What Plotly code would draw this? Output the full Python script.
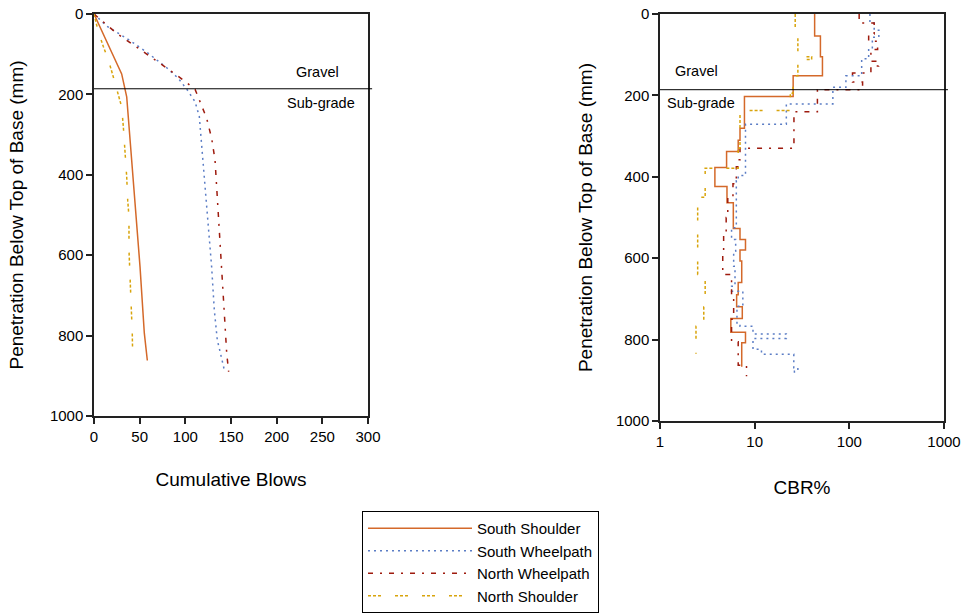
import plotly.graph_objects as go

# ---------------- DCP cumulative blows (left panel) ----------------
ss_depth = [0, 149, 206, 284, 463, 629, 794, 862]
ss_blows = [0, 30.3, 35.8, 38.6, 44.5, 50.4, 55.1, 58.4]

sw_depth = [0, 30, 66, 98, 135, 160, 189, 218, 255, 297, 380, 463, 546, 629, 736, 811, 857, 886]
sw_blows = [0, 13.9, 39.4, 59.5, 80.3, 92.3, 102.2, 110.6, 115.3, 116.8, 119.7, 122.6, 125.2,
            128.8, 131.7, 135.0, 139.8, 142.7]

nw_depth = [0, 48, 114, 152, 187, 214, 259, 309, 363, 430, 504, 554, 653, 745, 844, 890]
nw_blows = [0, 24.8, 66.8, 90.5, 110.6, 115.3, 123.3, 128.8, 132.5, 134.3, 136.1, 137.9,
            139.8, 142.7, 145.3, 147.4]

ns_depth = [0, 44, 81, 114, 156, 189, 231, 280, 338, 405, 463, 504, 587, 645, 703, 794, 844]
ns_blows = [0, 4.7, 10.2, 15.7, 21.1, 24.8, 30.3, 32.1, 33.9, 35.8, 36.9, 38.3, 38.3, 39.4,
            40.5, 41.9, 42.3]

# ---------------- CBR by layer (right panel) ----------------
# each list of tops ends with the bottom of the last layer
ss_top = [0, 54, 105, 152, 203, 281, 310, 338, 377, 424, 464, 527, 554, 580, 607, 660, 690,
          719, 748, 782, 808, 867]
ss_cbr = [43, 49.5, 52, 25.5, 7.8, 7.0, 6.7, 5.05, 3.8, 5.1, 5.95, 7.0, 8.0, 7.0, 7.3, 6.7,
          6.45, 7.4, 5.6, 8.0, 7.3]

sw_top = [0, 22, 40, 57, 85, 110, 152, 180, 221, 271, 397, 410, 525, 554, 583, 620, 669, 681,
          718, 759, 767, 786, 797, 824, 836, 869, 878, 885]
sw_cbr = [165, 183, 205, 175, 160, 135, 92, 67, 21.6, 8.0, 6.7, 6.4, 5.7, 6.3, 6.0, 6.2, 5.7,
          7.5, 6.5, 7.0, 9.6, 21.6, 9.6, 11.8, 25.9, 28.6, 26.3]

nw_top = [0, 22, 49, 67, 87, 116, 128, 145, 167, 186, 240, 330, 358, 375, 417, 450, 500, 545,
          585, 640, 700, 750, 805, 863, 890]
nw_cbr = [127, 183, 160, 199, 169, 204, 169, 108, 138, 46, 26, 7.0, 6.7, 6.4, 5.9, 5.2, 5.0,
          4.7, 4.6, 5.7, 6.0, 5.7, 6.7, 8.2]

ns_top = [0, 39, 105, 112, 152, 195, 237, 330, 379, 450, 640, 720, 767, 835]
ns_cbr = [26.8, 28.6, 40, 28.6, 25.4, 23.8, 7.0, 6.7, 3.0, 2.5, 3.0, 2.9, 2.4]

names = ["South Shoulder", "South Wheelpath", "North Wheelpath", "North Shoulder"]
colors = ["#D4692A", "#5B7DC5", "#9E1B0E", "#D8A40C"]
dashes = ["solid", "2px,4px", "5px,7px,2px,7px", "3px,2px,3px,2px,3px,14px"]

gravel_limit = 186  # mm, top of sub-grade

FONT = "Liberation Sans, Arial, sans-serif"

fig = go.Figure()

left = [(ss_blows, ss_depth), (sw_blows, sw_depth), (nw_blows, nw_depth), (ns_blows, ns_depth)]
for (bx, dy), nm, col, ds in zip(left, names, colors, dashes):
    fig.add_trace(go.Scatter(x=bx, y=dy, mode="lines", name=nm,
                             line=dict(color=col, width=1.5, dash=ds),
                             xaxis="x", yaxis="y"))

right = [(ss_cbr, ss_top), (sw_cbr, sw_top), (nw_cbr, nw_top), (ns_cbr, ns_top)]
for (cv, tops), nm, col, ds in zip(right, names, colors, dashes):
    fig.add_trace(go.Scatter(x=cv + [cv[-1]], y=tops, mode="lines", name=nm,
                             line=dict(color=col, width=1.5, dash=ds, shape="vh"),
                             showlegend=False, xaxis="x2", yaxis="y2"))

axis_common = dict(showline=True, linecolor="#222", linewidth=1.5, mirror=True,
                   ticks="outside", ticklen=6, tickcolor="#222", tickwidth=1.5,
                   showgrid=False, zeroline=False, automargin=False,
                   tickfont=dict(family=FONT, size=15, color="black"))
title_font = dict(family=FONT, size=19, color="black")

fig.update_layout(
    template="none",
    width=964, height=613,
    margin=dict(l=0, r=0, t=0, b=0, autoexpand=False),
    paper_bgcolor="white", plot_bgcolor="white",
    font=dict(family=FONT, color="black"),
    xaxis=dict(domain=[94 / 964, 368 / 964], range=[0, 300], tickvals=list(range(0, 301, 50)),
               anchor="y", title=dict(text="Cumulative Blows", font=title_font, standoff=29),
               **axis_common),
    yaxis=dict(domain=[1 - 416 / 613, 1 - 14 / 613], range=[1000, 0],
               tickvals=list(range(0, 1001, 200)), anchor="x",
               title=dict(text="Penetration Below Top of Base (mm)", font=title_font, standoff=21),
               **axis_common),
    xaxis2=dict(domain=[660 / 964, 944 / 964], type="log", range=[0, 3],
                tickvals=[1, 10, 100, 1000], ticktext=["1", "10", "100", "1000"], anchor="y2",
                title=dict(text="CBR%", font=title_font, standoff=32), **axis_common),
    yaxis2=dict(domain=[1 - 421 / 613, 1 - 14 / 613], range=[1000, 0],
                tickvals=list(range(0, 1001, 200)), anchor="x2",
                title=dict(text="Penetration Below Top of Base (mm)", font=title_font, standoff=18),
                **axis_common),
    legend=dict(x=362 / 964, y=1 - 511 / 613, xanchor="left", yanchor="top",
                bordercolor="black", borderwidth=1, bgcolor="white",
                font=dict(family=FONT, size=15, color="black"),
                itemwidth=104, tracegroupgap=0),
    showlegend=True,
)

# gravel / sub-grade boundary and layer labels on both panels
for xr, yr, x_end in [("x domain", "y", 1.015), ("x2 domain", "y2", 1.014)]:
    fig.add_shape(type="line", xref=xr, yref=yr, x0=0, x1=x_end,
                  y0=gravel_limit, y1=gravel_limit, line=dict(color="black", width=1))

label_font = dict(family=FONT, size=14.5, color="black")
for xr, yr, x, y, txt in [("x domain", "y", 0.814, 144, "Gravel"),
                          ("x domain", "y", 0.828, 222, "Sub-grade"),
                          ("x2 domain", "y2", 0.130, 140, "Gravel"),
                          ("x2 domain", "y2", 0.144, 219, "Sub-grade")]:
    fig.add_annotation(xref=xr, yref=yr, x=x, y=y, text=txt, showarrow=False,
                       xanchor="center", yanchor="middle", font=label_font)

fig.write_html("out.html")
